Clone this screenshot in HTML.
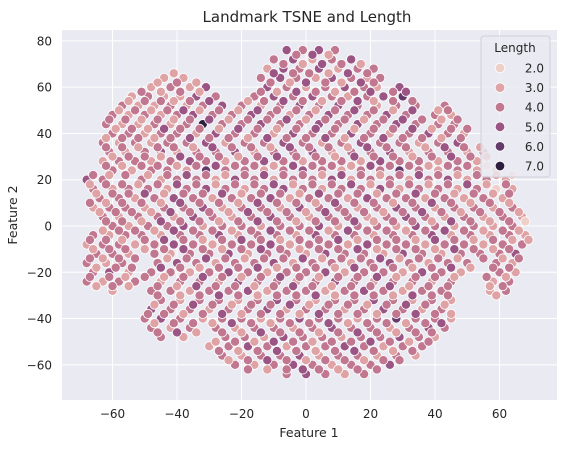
<!DOCTYPE html>
<html><head><meta charset="utf-8"><style>
body{margin:0;background:#fff;}
svg text{font-family:"DejaVu Sans","Liberation Sans",sans-serif;fill:#262626;}
</style></head><body>
<svg id="chart" width="566" height="449" xmlns="http://www.w3.org/2000/svg">
<rect x="62" y="30" width="495" height="370" fill="#eaeaf2"/>
<g id="grid"></g><g id="ticks"></g><g id="points"></g>
<text x="307" y="22" font-size="15" text-anchor="middle">Landmark TSNE and Length</text>
<text x="309" y="437" font-size="12.5" text-anchor="middle">Feature 1</text>
<text transform="translate(17,215) rotate(-90)" font-size="12.5" text-anchor="middle">Feature 2</text>
<g id="legend"></g>
</svg>
<script>
const xTicks=[-60,-40,-20,0,20,40,60];
const yTicks=[-60,-40,-20,0,20,40,60,80];
const legendLevels=["2.0","3.0","4.0","5.0","6.0","7.0"];
const levelColors={2:"#efd0c8",3:"#dfa3a5",4:"#c1778f",5:"#9a5585",6:"#643a6b",7:"#2d1e3e"};
const rowY=[76,72,68,64,60,56,52,48,44,40,36,32,28,24,20,16,12,8,4,0,-4,-8,-12,-16,-20,-24,-28,-32,-36,-40,-44,-48,-52,-56,-60,-64];
const rowPts=[
"-6/5 -1/4 4/5 9/4",
"-10/4 -4/5 2/3 8/4 14/5",
"-12/3 -7/5 -2/4 4/5 10/3 16/4 21/4",
"-44/3 -38/3 -14/4 -8/5 -3/4 3/3 8/5 14/4 19/3 23/4",
"-48/3 -42/4 -36/3 -31/5 -12/5 -6/4 0/3 6/4 12/5 18/4 22/3 29/5",
"-54/3 -49/4 -44/3 -39/3 -34/5 -28/4 -16/4 -10/5 -4/4 2/5 8/4 13/3 19/4 24/5 30/6",
"-57/4 -52/3 -47/3 -42/4 -37/3 -32/4 -26/5 -20/4 -14/3 -8/4 -2/5 4/4 10/5 16/4 22/3 28/4 34/4 43/4",
"-60/4 -55/3 -50/4 -45/3 -40/4 -35/5 -29/4 -23/4 -17/5 -11/4 -5/3 1/4 7/5 13/4 19/4 25/5 31/4 40/4 45/3",
"-62/4 -57/3 -52/3 -47/4 -42/3 -37/4 -32/7 -26/4 -20/4 -14/5 -8/4 -2/4 4/5 10/4 16/5 22/4 28/5 34/4 41/4 46/4",
"-60/4 -55/4 -50/3 -45/4 -40/4 -34/3 -28/5 -22/4 -16/4 -10/3 -4/5 2/4 8/4 14/5 20/4 26/3 32/4 38/5 44/4 49/3",
"-63/4 -58/3 -53/4 -48/3 -43/4 -37/4 -31/5 -25/3 -19/4 -13/4 -7/5 -1/4 5/3 11/4 17/5 23/4 29/4 35/3 41/4 47/5",
"-61/4 -56/3 -50/4 -45/5 -40/3 -34/4 -28/4 -22/5 -16/3 -10/4 -4/4 2/5 8/3 14/4 20/4 26/5 32/3 38/4 44/4 50/3 55/4",
"-63/3 -58/4 -53/4 -48/3 -42/4 -36/5 -31/4 -25/3 -19/4 -13/5 -7/4 -1/3 5/4 11/4 17/3 23/5 29/4 35/4 41/3 47/4 53/3",
"-60/4 -54/3 -48/4 -43/4 -37/3 -31/6 -25/4 -19/4 -13/3 -7/4 -1/5 5/4 11/3 17/4 23/4 29/6 35/4 41/3 47/4 53/3 59/3",
"-68/5 -63/4 -51/4 -45/3 -40/4 -34/4 -28/3 -22/5 -16/4 -10/3 -4/4 2/4 8/5 14/3 20/4 26/4 32/3 38/4 44/5 50/3 56/4 62/3",
"-66/4 -60/3 -55/4 -49/4 -43/3 -37/4 -31/5 -25/4 -19/3 -13/4 -7/5 -1/4 5/3 11/4 17/4 23/5 29/3 35/4 41/4 47/3 53/4 59/2 64/3",
"-64/4 -58/4 -53/3 -47/4 -41/5 -35/4 -29/3 -23/4 -17/4 -11/5 -5/3 1/4 7/4 13/3 19/5 25/4 31/4 37/3 43/4 49/3 55/4 61/3",
"-66/3 -61/4 -56/4 -50/3 -44/4 -38/4 -32/5 -26/3 -20/4 -14/4 -8/3 -2/5 4/4 10/4 16/3 22/4 28/5 34/4 40/3 46/4 52/4 58/3 64/4",
"-63/4 -58/3 -52/4 -46/4 -41/3 -35/5 -29/4 -23/3 -17/4 -11/5 -5/4 1/3 7/4 13/4 19/3 25/4 31/5 37/4 43/3 49/4 55/3 61/4 67/3",
"-60/4 -55/3 -49/4 -43/4 -38/5 -32/3 -26/4 -20/4 -14/3 -8/4 -2/4 4/5 10/3 16/4 22/4 28/3 34/5 40/4 46/3 52/4 58/3 64/4",
"-66/4 -61/3 -56/4 -51/4 -45/3 -39/4 -33/4 -27/5 -21/3 -15/4 -9/4 -3/3 3/5 9/4 15/4 21/3 27/4 33/4 39/5 45/3 51/4 57/3 63/4 68/3",
"-68/3 -63/4 -58/4 -53/3 -47/4 -41/5 -35/4 -29/3 -23/4 -17/4 -11/5 -5/3 1/4 7/4 13/3 19/5 25/4 31/4 37/3 43/4 49/4 55/3 61/4 67/4",
"-65/4 -60/4 -55/3 -47/4 -42/3 -36/4 -30/4 -24/5 -18/3 -12/4 -6/4 0/3 6/5 12/4 18/4 24/3 30/5 36/4 42/3 48/4 54/4 60/4 65/5",
"-68/4 -62/3 -57/4 -46/4 -40/5 -34/4 -28/3 -22/4 -16/4 -10/5 -4/3 2/4 8/4 14/3 20/4 26/5 32/4 38/3 44/4 50/4 59/4 64/3",
"-66/4 -61/5 -55/3 -48/4 -42/4 -36/3 -30/4 -24/5 -18/4 -12/3 -6/4 0/4 6/5 12/3 18/4 24/4 30/3 36/5 42/4 48/3 60/4 65/3",
"-68/4 -63/3 -58/4 -53/4 -45/3 -39/4 -33/4 -27/3 -21/5 -15/4 -9/4 -3/3 3/4 9/5 15/4 21/3 27/4 33/4 39/3 45/4 58/3 63/4",
"-60/3 -48/4 -42/4 -36/3 -30/4 -24/4 -18/5 -12/3 -6/4 0/4 6/3 12/4 18/5 24/4 30/3 36/4 42/4 57/3 62/4",
"-45/4 -39/3 -33/4 -27/4 -21/3 -15/4 -9/5 -3/4 3/3 9/4 15/4 21/5 27/4 33/3 39/4 45/3",
"-48/5 -42/4 -36/4 -30/3 -24/4 -18/4 -12/5 -6/3 0/4 6/4 12/3 18/4 24/5 30/4 36/3 42/4",
"-50/4 -45/5 -39/4 -32/3 -26/4 -20/4 -14/3 -8/4 -2/5 4/4 10/4 16/3 22/4 28/6 34/4 40/4 45/3",
"-48/4 -42/3 -36/4 -28/4 -22/3 -16/4 -10/4 -4/3 2/4 8/5 14/4 20/4 26/3 32/4 38/5 43/4",
"-45/4 -38/3 -25/4 -19/4 -13/3 -7/5 -1/4 5/4 11/3 17/4 23/4 29/5 35/4 40/3",
"-30/3 -24/4 -18/5 -12/4 -6/3 0/4 6/4 12/5 18/4 24/3 30/4 36/4",
"-26/4 -20/3 -14/4 -8/4 -2/5 4/3 10/4 16/4 22/3 28/4 34/3",
"-22/4 -16/3 -10/4 -4/5 2/4 8/3 14/4 20/4 26/5",
"-6/4 0/5 6/4 12/3 18/4"
];
const rowY2=[74,70,66,62,58,54,50,46,42,38,34,30,26,22,18,14,10,6,2,-2,-6,-10,-14,-18,-22,-26,-30,-34,-38,-42,-46,-50,-54,-58,-62];
const rowPts2=[
"-3/4 2/5 7/3",
"-7/4 -1/3 5/5 11/4 17/3",
"-41/3 -10/5 -4/4 1/4 7/3 13/5 19/4",
"-46/3 -40/4 -34/3 -11/4 -5/3 0/5 6/4 11/3 17/5 21/4",
"-51/4 -45/3 -39/4 -33/3 -14/4 -9/3 -3/5 3/4 9/3 15/4 20/5 27/4 31/5",
"-55/3 -50/4 -45/4 -41/3 -36/4 -30/5 -18/3 -13/4 -7/5 -1/4 5/3 11/4 16/5 21/3 27/4 33/4",
"-58/3 -53/4 -48/3 -43/4 -38/5 -33/3 -27/4 -21/3 -15/5 -9/4 -3/4 3/3 9/4 15/5 21/4 27/3 33/5 41/3 44/4",
"-61/4 -56/4 -51/3 -46/4 -41/3 -36/4 -30/5 -24/3 -18/4 -12/4 -6/5 0/3 6/4 12/4 18/3 24/4 30/5 36/4 42/3 47/4",
"-59/3 -54/4 -49/3 -44/5 -39/4 -33/4 -27/3 -21/5 -15/4 -9/3 -3/4 3/5 9/4 15/3 21/4 27/4 33/5 39/3 45/4 50/4",
"-62/3 -57/4 -52/4 -47/3 -42/4 -36/5 -30/4 -24/4 -18/3 -12/5 -6/4 0/4 6/5 12/3 18/4 24/5 30/4 36/4 42/3 48/4",
"-62/4 -57/4 -52/3 -46/4 -41/4 -35/3 -29/5 -23/4 -17/4 -11/3 -5/5 1/4 7/4 13/3 19/5 25/4 31/4 37/3 43/5 49/4 54/3",
"-60/3 -55/4 -50/4 -45/3 -39/5 -33/4 -27/4 -21/3 -15/4 -9/5 -3/4 3/4 9/3 15/5 21/4 27/4 33/3 39/4 45/5 51/4 56/3",
"-62/4 -57/3 -51/4 -46/4 -40/3 -34/4 -28/5 -22/4 -16/4 -10/3 -4/5 2/4 8/4 14/3 20/5 26/4 32/4 38/3 44/4 50/4 56/2",
"-66/4 -61/3 -56/4 -49/3 -43/4 -37/5 -31/4 -25/3 -19/4 -13/5 -7/4 -1/4 5/3 11/5 17/4 23/3 29/4 35/5 41/4 47/3 53/4 59/3 64/2",
"-67/3 -62/4 -57/4 -52/3 -46/4 -40/5 -34/4 -28/3 -22/4 -16/4 -10/5 -4/3 2/4 8/4 14/5 20/3 26/4 32/4 38/3 44/4 50/5 56/3 62/4",
"-65/3 -60/4 -55/4 -50/5 -44/3 -38/4 -32/4 -26/5 -20/3 -14/4 -8/4 -2/3 4/5 10/4 16/4 22/3 28/4 34/5 40/4 46/3 52/4 58/3 63/4",
"-67/4 -62/3 -57/4 -51/4 -45/3 -39/5 -33/4 -27/4 -21/3 -15/5 -9/4 -3/4 3/3 9/5 15/4 21/4 27/3 33/4 39/5 45/4 51/3 57/4 63/3",
"-64/3 -59/4 -54/4 -48/3 -42/5 -36/4 -30/4 -24/3 -18/5 -12/4 -6/4 0/3 6/5 12/4 18/4 24/3 30/4 36/5 42/4 48/3 54/4 60/4 66/3",
"-62/4 -57/4 -51/3 -45/5 -39/4 -33/4 -27/3 -21/4 -15/5 -9/4 -3/3 3/4 9/4 15/5 21/3 27/4 33/4 39/3 45/5 51/4 57/3 63/4 68/2",
"-63/3 -58/4 -53/4 -47/3 -41/5 -35/4 -29/4 -23/3 -17/4 -11/5 -5/4 1/4 7/3 13/5 19/4 25/4 31/3 37/4 43/5 49/4 55/3 61/4 66/3",
"-67/4 -62/4 -57/3 -50/4 -44/5 -38/4 -32/3 -26/4 -20/5 -14/4 -8/3 -2/4 4/4 10/5 16/3 22/4 28/4 34/3 40/5 46/4 52/3 58/4 64/3 69/3",
"-66/3 -61/4 -56/4 -50/3 -44/4 -38/5 -32/4 -26/3 -20/4 -14/5 -8/4 -2/3 4/4 10/4 16/5 22/3 28/4 34/4 40/3 46/5 52/4 58/3 63/4",
"-67/4 -63/3 -58/4 -53/4 -43/3 -37/4 -31/5 -25/4 -19/3 -13/4 -7/4 -1/5 5/3 11/4 17/4 23/5 29/3 35/4 41/4 47/3 55/4 61/3 66/4",
"-65/3 -59/4 -54/4 -45/5 -39/4 -33/3 -27/4 -21/4 -15/5 -9/3 -3/4 3/4 9/3 15/5 21/4 27/4 33/3 39/4 45/5 51/3 58/4 63/4",
"-67/4 -61/4 -56/3 -50/4 -44/3 -38/4 -32/5 -26/4 -20/3 -14/4 -8/5 -2/4 4/3 10/4 16/4 22/5 28/3 34/4 40/4 46/3 56/4 62/3",
"-65/3 -60/4 -55/3 -46/4 -40/3 -34/5 -28/4 -22/4 -16/3 -10/4 -4/5 2/4 8/3 14/4 20/4 26/5 32/3 38/4 44/4 57/3 61/4",
"-46/4 -39/3 -33/4 -27/5 -21/4 -15/3 -9/4 -3/4 3/5 9/3 15/4 21/4 27/3 33/5 39/4 44/4 59/3",
"-47/3 -41/4 -35/5 -29/4 -23/3 -17/4 -11/4 -5/5 1/3 7/4 13/4 19/3 25/4 31/5 37/4 43/3",
"-49/4 -44/4 -38/3 -32/4 -26/5 -20/3 -14/4 -8/4 -2/3 4/5 10/4 16/4 22/3 28/4 34/5 40/4 45/3",
"-47/3 -41/4 -35/4 -29/3 -23/5 -17/4 -11/3 -5/4 1/4 7/5 13/3 19/4 25/4 31/3 37/4 42/5",
"-46/4 -40/5 -34/3 -26/4 -20/3 -14/5 -8/4 -2/4 4/3 10/4 16/5 22/4 28/3 34/4 39/4",
"-28/3 -22/4 -16/3 -10/5 -4/4 2/3 8/4 14/4 20/5 26/4 32/3 38/4",
"-27/4 -21/3 -15/4 -9/5 -3/4 3/3 9/4 15/5 21/4 27/3 33/4",
"-24/3 -18/4 -12/5 -6/4 0/3 6/4 12/4 18/3 24/4 29/4",
"-18/4 -12/3 -6/4 -1/5 4/4 10/3 16/4 22/4"
];
const NS="http://www.w3.org/2000/svg";
const xS=v=>306+v*3.225, yS=v=>226-v*2.314;
const grid=document.getElementById('grid'), ticks=document.getElementById('ticks');
xTicks.forEach(t=>{
 const l=document.createElementNS(NS,'line');
 l.setAttribute('x1',xS(t));l.setAttribute('x2',xS(t));l.setAttribute('y1',30);l.setAttribute('y2',400);
 l.setAttribute('stroke','#fff');l.setAttribute('stroke-width','1');
 
 
 grid.appendChild(l);
 const tx=document.createElementNS(NS,'text');
 tx.setAttribute('x',xS(t));tx.setAttribute('y',418);tx.setAttribute('font-size','12');tx.setAttribute('text-anchor','middle');
 tx.textContent=t<0?'\u2212'+(-t):String(t);
 
 
 ticks.appendChild(tx);
});
yTicks.forEach(t=>{
 const l=document.createElementNS(NS,'line');
 l.setAttribute('x1',62);l.setAttribute('x2',557);l.setAttribute('y1',yS(t));l.setAttribute('y2',yS(t));
 l.setAttribute('stroke','#fff');l.setAttribute('stroke-width','1');
 
 
 grid.appendChild(l);
 const tx=document.createElementNS(NS,'text');
 tx.setAttribute('x',52);tx.setAttribute('y',yS(t)+4.5);tx.setAttribute('font-size','12');tx.setAttribute('text-anchor','end');
 tx.textContent=t<0?'\u2212'+(-t):String(t);
 
 
 ticks.appendChild(tx);
});
const pts=document.getElementById('points');
function drawRows(ys,rows){
 ys.forEach((y,i)=>{
  rows[i].split(' ').forEach(tok=>{
   const [x,len]=tok.split('/').map(Number);
   const c=document.createElementNS(NS,'circle');
   c.setAttribute('cx',xS(x));c.setAttribute('cy',yS(y));c.setAttribute('r',4.6);
   c.setAttribute('fill',levelColors[len]);c.setAttribute('stroke','#fff');c.setAttribute('stroke-width','0.8');
   
   
   pts.appendChild(c);
  });
 });
}
drawRows(rowY,rowPts);
drawRows(rowY2,rowPts2);
const lg=document.getElementById('legend');
const box=document.createElementNS(NS,'rect');
box.setAttribute('x',481);box.setAttribute('y',36);box.setAttribute('width',69);box.setAttribute('height',141);box.setAttribute('rx',3);
box.setAttribute('fill','#eaeaf2');box.setAttribute('fill-opacity','0.8');box.setAttribute('stroke','#d0d0d8');


lg.appendChild(box);
const lt=document.createElementNS(NS,'text');
lt.setAttribute('x',515);lt.setAttribute('y',52);lt.setAttribute('font-size','12');lt.setAttribute('text-anchor','middle');lt.textContent='Length';


lg.appendChild(lt);
legendLevels.forEach((lv,i)=>{
 const y=68+i*19.6;
 const g=document.createElementNS(NS,'g');
 
 
 const c=document.createElementNS(NS,'circle');
 c.setAttribute('cx',500);c.setAttribute('cy',y);c.setAttribute('r',4.8);c.setAttribute('fill',levelColors[parseFloat(lv)]);
 c.setAttribute('stroke','#fff');c.setAttribute('stroke-width','0.8');
 
 
 const t=document.createElementNS(NS,'text');
 t.setAttribute('x',544);t.setAttribute('y',y+4.5);t.setAttribute('font-size','12');t.setAttribute('text-anchor','end');t.textContent=lv;
 
 
 g.appendChild(c);g.appendChild(t);lg.appendChild(g);
});
</script>
</body></html>
